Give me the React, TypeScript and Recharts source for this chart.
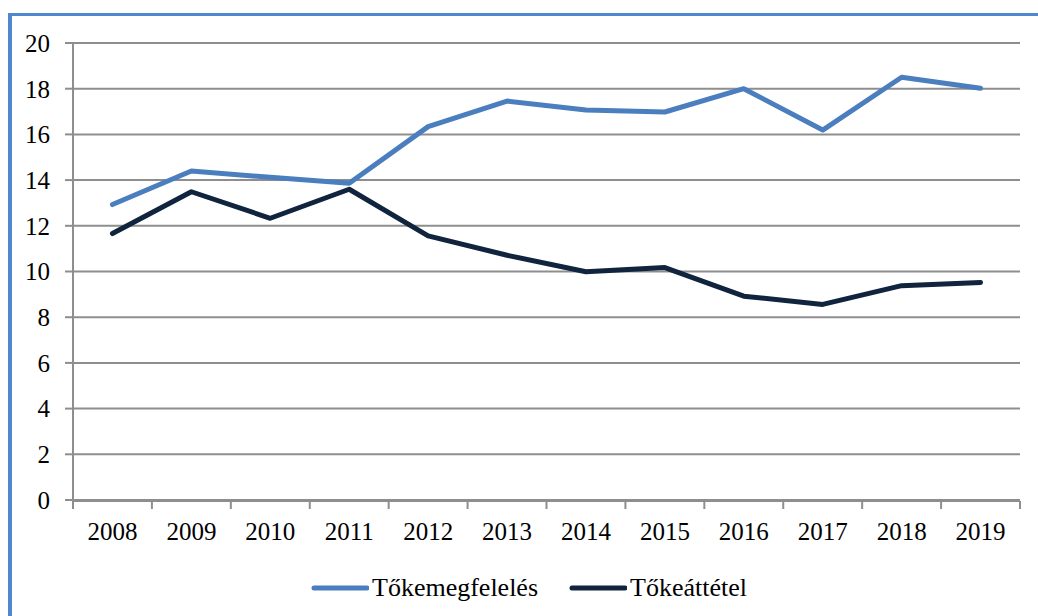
import React from 'react';
import {
  LineChart,
  Line,
  XAxis,
  YAxis,
  CartesianGrid,
  Legend,
} from 'recharts';

const years = ['2008', '2009', '2010', '2011', '2012', '2013', '2014', '2015', '2016', '2017', '2018', '2019'];
const capitalAdequacy = [12.93, 14.4, 14.12, 13.86, 16.34, 17.46, 17.07, 16.98, 18.0, 16.19, 18.5, 18.02];
const leverage = [11.66, 13.49, 12.33, 13.6, 11.56, 10.71, 9.99, 10.17, 8.92, 8.56, 9.38, 9.52];
const yTicks = [0, 2, 4, 6, 8, 10, 12, 14, 16, 18, 20];
const boundaryTicks = [0, 1, 2, 3, 4, 5, 6, 7, 8, 9, 10, 11, 12];

// pos puts each year in the middle of its slot on the numeric axis
const data = years.map((year, i) => ({
  year,
  pos: i + 0.5,
  adequacy: capitalAdequacy[i],
  leverage: leverage[i],
}));

const W = 1038;
const H = 616;
const margin = { top: 43, right: 18, bottom: 114, left: 13 };
const yAxisWidth = 60;
const plotWidth = W - margin.left - margin.right - yAxisWidth;
const halfBand = plotWidth / years.length / 2;

const font = '"Liberation Serif", "Times New Roman", serif';
const gridColor = '#8e8e8e';
const blue = '#4a7ebf';
const navy = '#10243e';

function SerifTick({ x, y, payload, textAnchor, verticalAnchor }: any) {
  const dy = verticalAnchor === 'start' ? '0.71em' : '0.355em';
  return (
    <text x={x} y={y} dy={dy} textAnchor={textAnchor} fill="#000" fontSize={25} fontFamily={font} style={{ fontFamily: font }}>
      {payload.value}
    </text>
  );
}

function LegendContent({ payload }: any) {
  return (
    <div style={{ display: 'flex', alignItems: 'center', fontFamily: font, fontSize: 26, color: '#000' }}>
      {(payload || []).map((entry: any, i: number) => (
        <div key={entry.value} style={{ display: 'flex', alignItems: 'center', marginRight: i === 0 ? 31 : 0 }}>
          <svg width={58} height={8} style={{ marginRight: 3 }}>
            <line x1={3} y1={4} x2={56} y2={4} stroke={entry.color} strokeWidth={5} strokeLinecap="round" />
          </svg>
          <span>{entry.value}</span>
        </div>
      ))}
    </div>
  );
}

export default function App() {
  return (
    <div style={{ position: 'absolute', left: 0, top: 0, width: W, height: H, background: '#fff', fontFamily: font }}>
      <div
        style={{
          position: 'absolute',
          left: 8,
          top: 13,
          right: 0,
          bottom: 0,
          borderTop: '3px solid #5088d0',
          borderLeft: '4px solid #5088d0',
        }}
      />
      <LineChart width={W} height={H} data={data} margin={margin} style={{ position: 'absolute', left: 0, top: 0 }}>
        <CartesianGrid vertical={false} stroke={gridColor} strokeWidth={2} />
        <XAxis
          xAxisId="edges"
          type="number"
          dataKey="pos"
          domain={[0, 12]}
          allowDataOverflow
          ticks={boundaryTicks}
          height={1}
          interval={0}
          axisLine={{ stroke: gridColor, strokeWidth: 2 }}
          tickLine={{ stroke: gridColor, strokeWidth: 2 }}
          tickSize={8}
          tickFormatter={() => ''}
        />
        <XAxis
          xAxisId="cat"
          dataKey="year"
          height={1}
          padding={{ left: halfBand, right: halfBand }}
          axisLine={false}
          tickLine={false}
          tickSize={8}
          tickMargin={14}
          interval={0}
          tick={<SerifTick />}
        />
        <YAxis
          domain={[0, 20]}
          ticks={yTicks}
          width={yAxisWidth}
          interval={0}
          axisLine={{ stroke: gridColor, strokeWidth: 2 }}
          tickLine={{ stroke: gridColor, strokeWidth: 2 }}
          tickSize={8}
          tickMargin={15}
          tick={<SerifTick />}
        />
        <Legend
          verticalAlign="middle"
          align="center"
          layout="horizontal"
          wrapperStyle={{ left: 311, top: 573, width: 'auto' }}
          content={<LegendContent />}
        />
        <Line
          xAxisId="edges"
          type="linear"
          dataKey="adequacy"
          name="Tőkemegfelelés"
          stroke={blue}
          strokeWidth={5}
          strokeLinecap="round"
          strokeLinejoin="round"
          dot={false}
          activeDot={false}
          isAnimationActive={false}
        />
        <Line
          xAxisId="edges"
          type="linear"
          dataKey="leverage"
          name="Tőkeáttétel"
          stroke={navy}
          strokeWidth={5}
          strokeLinecap="round"
          strokeLinejoin="round"
          dot={false}
          activeDot={false}
          isAnimationActive={false}
        />
      </LineChart>
    </div>
  );
}
